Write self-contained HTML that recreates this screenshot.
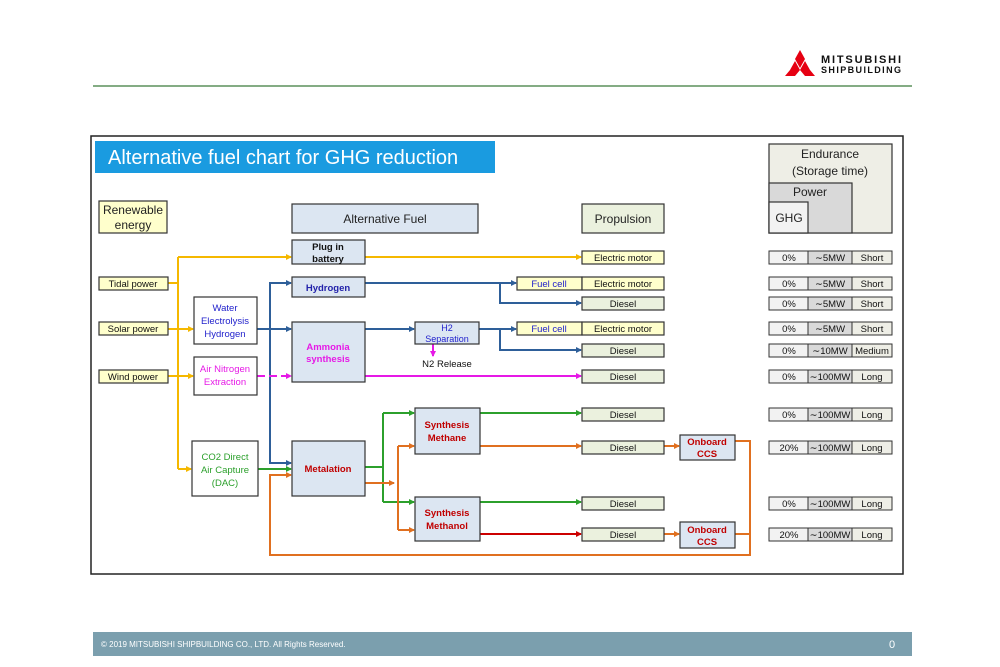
<!DOCTYPE html>
<html><head><meta charset="utf-8"><style>
body{margin:0;background:#fff;}
svg{display:block;font-family:"Liberation Sans",sans-serif;}
</style></head><body>
<svg width="1000" height="667" viewBox="0 0 1000 667" xmlns="http://www.w3.org/2000/svg">
<defs>
<marker id="ay" markerWidth="6" markerHeight="6" refX="5" refY="3" orient="auto" markerUnits="userSpaceOnUse"><path d="M0,0L6,3L0,6z" fill="#f5b800"/></marker>
<marker id="ab" markerWidth="6" markerHeight="6" refX="5" refY="3" orient="auto" markerUnits="userSpaceOnUse"><path d="M0,0L6,3L0,6z" fill="#2e5f99"/></marker>
<marker id="am" markerWidth="6" markerHeight="6" refX="5" refY="3" orient="auto" markerUnits="userSpaceOnUse"><path d="M0,0L6,3L0,6z" fill="#e619e6"/></marker>
<marker id="ag" markerWidth="6" markerHeight="6" refX="5" refY="3" orient="auto" markerUnits="userSpaceOnUse"><path d="M0,0L6,3L0,6z" fill="#2ca02c"/></marker>
<marker id="ao" markerWidth="6" markerHeight="6" refX="5" refY="3" orient="auto" markerUnits="userSpaceOnUse"><path d="M0,0L6,3L0,6z" fill="#e07020"/></marker>
<marker id="ar" markerWidth="6" markerHeight="6" refX="5" refY="3" orient="auto" markerUnits="userSpaceOnUse"><path d="M0,0L6,3L0,6z" fill="#cc0000"/></marker>
</defs>
<!-- header -->
<polygon points="800,50 805,59 800,68 795,59" fill="#e60012"/>
<polygon points="795,61 800,70 795,76 785,76 790,70" fill="#e60012"/>
<polygon points="805,61 810,70 815,76 805,76 800,70" fill="#e60012"/>
<text x="821" y="63" font-size="11" font-weight="bold" fill="#111" textLength="80">MITSUBISHI</text>
<text x="821" y="73" font-size="9" font-weight="bold" fill="#111" textLength="80">SHIPBUILDING</text>
<line x1="93" y1="86" x2="912" y2="86" stroke="#3a7a3a" stroke-width="1.2"/>
<!-- footer -->
<rect x="93" y="632" width="819" height="24" fill="#7b9fae"/>
<text x="101" y="647" font-size="8" fill="#fff">© 2019 MITSUBISHI SHIPBUILDING CO., LTD.  All Rights Reserved.</text>
<text x="889" y="648" font-size="11" fill="#fff">0</text>
<!-- frame -->
<rect x="91" y="136" width="812" height="438" fill="#fff" stroke="#222" stroke-width="1.5"/>
<rect x="95" y="141" width="400" height="32" fill="#1a9be0"/>
<text x="108" y="164" font-size="20" fill="#fff">Alternative fuel chart for GHG reduction</text>

<g fill="none" stroke-width="2">
<!-- yellow -->
<g stroke="#f5b800">
<path d="M178,257V469"/>
<path d="M178,257H291" marker-end="url(#ay)"/>
<path d="M365,257H581" marker-end="url(#ay)"/>
<path d="M168,283H178"/>
<path d="M168,329H193" marker-end="url(#ay)"/>
<path d="M168,376H193" marker-end="url(#ay)"/>
<path d="M178,469H191" marker-end="url(#ay)"/>
</g>
<!-- blue -->
<g stroke="#2e5f99">
<path d="M257,329H291" marker-end="url(#ab)"/>
<path d="M270,463V283H291" marker-end="url(#ab)"/>
<path d="M270,460V463H291" marker-end="url(#ab)"/>
<path d="M365,283H516" marker-end="url(#ab)"/>
<path d="M500,283V303H581" marker-end="url(#ab)"/>
<path d="M365,329H414" marker-end="url(#ab)"/>
<path d="M479,329H516" marker-end="url(#ab)"/>
<path d="M500,329V350H581" marker-end="url(#ab)"/>
</g>
<!-- magenta -->
<g stroke="#e619e6">
<path d="M257,376H291" stroke-dasharray="8,4" marker-end="url(#am)"/>
<path d="M365,376H581" marker-end="url(#am)"/>
<path d="M433,344V356" marker-end="url(#am)"/>
</g>
<!-- green -->
<g stroke="#2ca02c">
<path d="M258,469H291" marker-end="url(#ag)"/>
<path d="M365,467H382"/>
<path d="M383,413V502"/>
<path d="M383,413H414" marker-end="url(#ag)"/>
<path d="M383,502H414" marker-end="url(#ag)"/>
<path d="M480,413H581" marker-end="url(#ag)"/>
<path d="M480,502H581" marker-end="url(#ag)"/>
</g>
<!-- orange -->
<g stroke="#e07020">
<path d="M365,483H394" marker-end="url(#ao)"/>
<path d="M398,446V530"/>
<path d="M398,446H414" marker-end="url(#ao)"/>
<path d="M398,530H414" marker-end="url(#ao)"/>
<path d="M480,446H581" marker-end="url(#ao)"/>
<path d="M664,446H679" marker-end="url(#ao)"/>
<path d="M664,534H679" marker-end="url(#ao)"/>
<path d="M735,441H750V555H270V475H291" marker-end="url(#ao)"/>
<path d="M735,534H750"/>
</g>
<path d="M480,534H581" stroke="#cc0000" marker-end="url(#ar)"/>
</g>

<g stroke="#333" stroke-width="1.2">
<rect x="99" y="201" width="68" height="32" fill="#ffffcc"/>
<rect x="292" y="204" width="186" height="29" fill="#dce6f2"/>
<rect x="582" y="204" width="82" height="29" fill="#ebf1de"/>
<rect x="769" y="144" width="123" height="89" fill="#eeeee6"/>
<rect x="769" y="183" width="83" height="50" fill="#d9d9d9"/>
<rect x="769" y="202" width="39" height="31" fill="#f2f2f2"/>
<rect x="292" y="240" width="73" height="24" fill="#dce6f2"/>
<rect x="292" y="277" width="73" height="20" fill="#dce6f2"/>
<rect x="292" y="322" width="73" height="60" fill="#dce6f2"/>
<rect x="292" y="441" width="73" height="55" fill="#dce6f2"/>
<rect x="99" y="277" width="69" height="13" fill="#ffffcc"/>
<rect x="99" y="322" width="69" height="13" fill="#ffffcc"/>
<rect x="99" y="370" width="69" height="13" fill="#ffffcc"/>
<rect x="194" y="297" width="63" height="47" fill="#fff"/>
<rect x="194" y="357" width="63" height="38" fill="#fff"/>
<rect x="192" y="441" width="66" height="55" fill="#fff"/>
<rect x="415" y="322" width="64" height="22" fill="#dce6f2"/>
<rect x="517" y="277" width="65" height="13" fill="#ffffcc"/>
<rect x="517" y="322" width="65" height="13" fill="#ffffcc"/>
<rect x="582" y="251" width="82" height="13" fill="#ffffcc"/>
<rect x="582" y="277" width="82" height="13" fill="#ffffcc"/>
<rect x="582" y="322" width="82" height="13" fill="#ffffcc"/>
<g fill="#ebf1de">
<rect x="582" y="297" width="82" height="13"/>
<rect x="582" y="344" width="82" height="13"/>
<rect x="582" y="370" width="82" height="13"/>
<rect x="582" y="408" width="82" height="13"/>
<rect x="582" y="441" width="82" height="13"/>
<rect x="582" y="497" width="82" height="13"/>
<rect x="582" y="528" width="82" height="13"/>
</g>
<rect x="415" y="408" width="65" height="46" fill="#dce6f2"/>
<rect x="415" y="497" width="65" height="44" fill="#dce6f2"/>
<rect x="680" y="435" width="55" height="25" fill="#dce6f2"/>
<rect x="680" y="522" width="55" height="26" fill="#dce6f2"/>
</g>

<g font-size="12" fill="#222" text-anchor="middle">
<text x="133" y="214">Renewable</text><text x="133" y="229">energy</text>
<text x="385" y="223">Alternative Fuel</text>
<text x="623" y="223">Propulsion</text>
<text x="830" y="158">Endurance</text><text x="830" y="175">(Storage time)</text>
<text x="810" y="196">Power</text>
<text x="789" y="222">GHG</text>
</g>
<g font-size="9.5" text-anchor="middle">
<text x="328" y="250" font-weight="bold" fill="#111">Plug in</text>
<text x="328" y="262" font-weight="bold" fill="#111">battery</text>
<text x="328" y="291" font-weight="bold" fill="#2222aa">Hydrogen</text>
<text x="328" y="350" font-weight="bold" fill="#e619e6">Ammonia</text>
<text x="328" y="362" font-weight="bold" fill="#e619e6">synthesis</text>
<text x="328" y="472" font-weight="bold" fill="#c00000">Metalation</text>
<text x="133" y="287" fill="#111">Tidal power</text>
<text x="133" y="332" fill="#111">Solar power</text>
<text x="133" y="380" fill="#111">Wind power</text>
<text x="225" y="311" fill="#2222cc">Water</text>
<text x="225" y="324" fill="#2222cc">Electrolysis</text>
<text x="225" y="337" fill="#2222cc">Hydrogen</text>
<text x="225" y="372" fill="#e619e6">Air Nitrogen</text>
<text x="225" y="385" fill="#e619e6">Extraction</text>
<text x="225" y="460" fill="#2ca02c">CO2 Direct</text>
<text x="225" y="473" fill="#2ca02c">Air Capture</text>
<text x="225" y="486" fill="#2ca02c">(DAC)</text>
<text x="447" y="331" font-size="9" fill="#2222cc">H2</text>
<text x="447" y="342" font-size="9" fill="#2222cc">Separation</text>
<text x="447" y="367" fill="#111">N2 Release</text>
<text x="549" y="287" fill="#2222cc">Fuel cell</text>
<text x="549" y="332" fill="#2222cc">Fuel cell</text>
<text x="623" y="261" fill="#111">Electric motor</text>
<text x="623" y="287" fill="#111">Electric motor</text>
<text x="623" y="332" fill="#111">Electric motor</text>
<g fill="#111">
<text x="623" y="307">Diesel</text><text x="623" y="354">Diesel</text><text x="623" y="380">Diesel</text>
<text x="623" y="418">Diesel</text><text x="623" y="451">Diesel</text><text x="623" y="507">Diesel</text><text x="623" y="538">Diesel</text>
</g>
<g font-weight="bold" fill="#c00000">
<text x="447" y="428">Synthesis</text><text x="447" y="441">Methane</text>
<text x="447" y="516">Synthesis</text><text x="447" y="529">Methanol</text>
<text x="707" y="445">Onboard</text><text x="707" y="457">CCS</text>
<text x="707" y="533">Onboard</text><text x="707" y="545">CCS</text>
</g>
</g>

<g font-size="9.5" fill="#111" text-anchor="middle" stroke-width="1">
<g id="rows">
<!-- rows -->
</g>
</g>
<g stroke="#333" stroke-width="1" font-size="9.5" text-anchor="middle">
<g><rect x="769" y="251" width="39" height="13" fill="#f2f2f2"/><rect x="808" y="251" width="44" height="13" fill="#d9d9d9"/><rect x="852" y="251" width="40" height="13" fill="#eeeee6"/></g>
<g><rect x="769" y="277" width="39" height="13" fill="#f2f2f2"/><rect x="808" y="277" width="44" height="13" fill="#d9d9d9"/><rect x="852" y="277" width="40" height="13" fill="#eeeee6"/></g>
<g><rect x="769" y="297" width="39" height="13" fill="#f2f2f2"/><rect x="808" y="297" width="44" height="13" fill="#d9d9d9"/><rect x="852" y="297" width="40" height="13" fill="#eeeee6"/></g>
<g><rect x="769" y="322" width="39" height="13" fill="#f2f2f2"/><rect x="808" y="322" width="44" height="13" fill="#d9d9d9"/><rect x="852" y="322" width="40" height="13" fill="#eeeee6"/></g>
<g><rect x="769" y="344" width="39" height="13" fill="#f2f2f2"/><rect x="808" y="344" width="44" height="13" fill="#d9d9d9"/><rect x="852" y="344" width="40" height="13" fill="#eeeee6"/></g>
<g><rect x="769" y="370" width="39" height="13" fill="#f2f2f2"/><rect x="808" y="370" width="44" height="13" fill="#d9d9d9"/><rect x="852" y="370" width="40" height="13" fill="#eeeee6"/></g>
<g><rect x="769" y="408" width="39" height="13" fill="#f2f2f2"/><rect x="808" y="408" width="44" height="13" fill="#d9d9d9"/><rect x="852" y="408" width="40" height="13" fill="#eeeee6"/></g>
<g><rect x="769" y="441" width="39" height="13" fill="#f2f2f2"/><rect x="808" y="441" width="44" height="13" fill="#d9d9d9"/><rect x="852" y="441" width="40" height="13" fill="#eeeee6"/></g>
<g><rect x="769" y="497" width="39" height="13" fill="#f2f2f2"/><rect x="808" y="497" width="44" height="13" fill="#d9d9d9"/><rect x="852" y="497" width="40" height="13" fill="#eeeee6"/></g>
<g><rect x="769" y="528" width="39" height="13" fill="#f2f2f2"/><rect x="808" y="528" width="44" height="13" fill="#d9d9d9"/><rect x="852" y="528" width="40" height="13" fill="#eeeee6"/></g>
<g stroke="none" fill="#111">
<text x="789" y="261">0%</text><text x="830" y="261">∼5MW</text><text x="872" y="261">Short</text>
<text x="789" y="287">0%</text><text x="830" y="287">∼5MW</text><text x="872" y="287">Short</text>
<text x="789" y="307">0%</text><text x="830" y="307">∼5MW</text><text x="872" y="307">Short</text>
<text x="789" y="332">0%</text><text x="830" y="332">∼5MW</text><text x="872" y="332">Short</text>
<text x="789" y="354">0%</text><text x="830" y="354">∼10MW</text><text x="872" y="354">Medium</text>
<text x="789" y="380">0%</text><text x="830" y="380">∼100MW</text><text x="872" y="380">Long</text>
<text x="789" y="418">0%</text><text x="830" y="418">∼100MW</text><text x="872" y="418">Long</text>
<text x="789" y="451">20%</text><text x="830" y="451">∼100MW</text><text x="872" y="451">Long</text>
<text x="789" y="507">0%</text><text x="830" y="507">∼100MW</text><text x="872" y="507">Long</text>
<text x="789" y="538">20%</text><text x="830" y="538">∼100MW</text><text x="872" y="538">Long</text>
</g>
</g>
</svg>
</body></html>
